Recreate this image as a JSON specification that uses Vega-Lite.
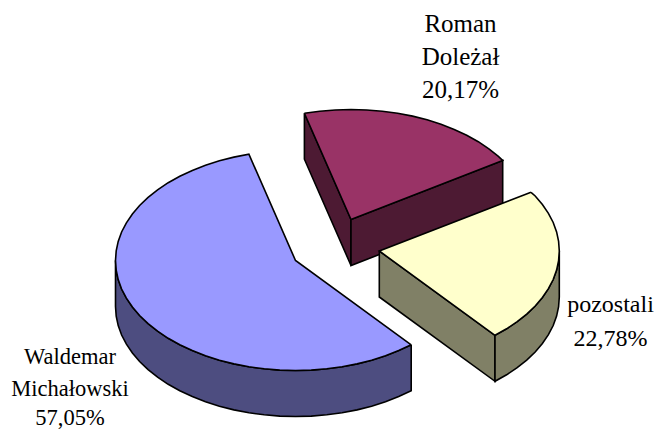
{"$schema":"https://vega.github.io/schema/vega-lite/v6.json","width":659,"height":430,"padding":0,"autosize":"none","background":"white","config":{"view":{"stroke":null}},"datasets":{"shapes":[
{"part":"Waldemar wall","o":1,"x":411.2,"y":344.8},{"part":"Waldemar wall","o":2,"x":385.5,"y":355.8},{"part":"Waldemar wall","o":3,"x":357.1,"y":363.9},{"part":"Waldemar wall","o":4,"x":326.8,"y":368.8},{"part":"Waldemar wall","o":5,"x":295.5,"y":370.5},{"part":"Waldemar wall","o":6,"x":264.2,"y":368.8},{"part":"Waldemar wall","o":7,"x":233.9,"y":363.9},{"part":"Waldemar wall","o":8,"x":205.5,"y":355.8},{"part":"Waldemar wall","o":9,"x":179.8,"y":344.8},{"part":"Waldemar wall","o":10,"x":157.6,"y":331.2},{"part":"Waldemar wall","o":11,"x":139.6,"y":315.5},{"part":"Waldemar wall","o":12,"x":126.4,"y":298.1},{"part":"Waldemar wall","o":13,"x":118.2,"y":279.6},{"part":"Waldemar wall","o":14,"x":115.5,"y":260.5},{"part":"Waldemar wall","o":15,"x":115.5,"y":306.5},{"part":"Waldemar wall","o":16,"x":118.2,"y":325.6},{"part":"Waldemar wall","o":17,"x":126.4,"y":344.1},{"part":"Waldemar wall","o":18,"x":139.6,"y":361.5},{"part":"Waldemar wall","o":19,"x":157.6,"y":377.2},{"part":"Waldemar wall","o":20,"x":179.8,"y":390.8},{"part":"Waldemar wall","o":21,"x":205.5,"y":401.8},{"part":"Waldemar wall","o":22,"x":233.9,"y":409.9},{"part":"Waldemar wall","o":23,"x":264.2,"y":414.8},{"part":"Waldemar wall","o":24,"x":295.5,"y":416.5},{"part":"Waldemar wall","o":25,"x":326.8,"y":414.8},{"part":"Waldemar wall","o":26,"x":357.1,"y":409.9},{"part":"Waldemar wall","o":27,"x":385.5,"y":401.8},{"part":"Waldemar wall","o":28,"x":411.2,"y":390.8},{"part":"Waldemar wall","o":29,"x":411.2,"y":344.8},
{"part":"Waldemar wall","o":1.5,"x":398.7,"y":350.6},{"part":"Waldemar wall","o":2.5,"x":371.6,"y":360.2},{"part":"Waldemar wall","o":3.5,"x":342.1,"y":366.8},{"part":"Waldemar wall","o":4.5,"x":311.2,"y":370.1},{"part":"Waldemar wall","o":5.5,"x":279.8,"y":370.1},{"part":"Waldemar wall","o":6.5,"x":248.9,"y":366.8},{"part":"Waldemar wall","o":7.5,"x":219.4,"y":360.2},{"part":"Waldemar wall","o":8.5,"x":192.3,"y":350.6},{"part":"Waldemar wall","o":9.5,"x":168.2,"y":338.3},{"part":"Waldemar wall","o":10.5,"x":148.1,"y":323.6},{"part":"Waldemar wall","o":11.5,"x":132.4,"y":307},{"part":"Waldemar wall","o":12.5,"x":121.6,"y":289},{"part":"Waldemar wall","o":13.5,"x":116.2,"y":270.1},
{"part":"Waldemar wall","o":15.5,"x":116.2,"y":316.1},{"part":"Waldemar wall","o":16.5,"x":121.6,"y":335},{"part":"Waldemar wall","o":17.5,"x":132.4,"y":353},{"part":"Waldemar wall","o":18.5,"x":148.1,"y":369.6},{"part":"Waldemar wall","o":19.5,"x":168.2,"y":384.3},{"part":"Waldemar wall","o":20.5,"x":192.3,"y":396.6},{"part":"Waldemar wall","o":21.5,"x":219.4,"y":406.2},{"part":"Waldemar wall","o":22.5,"x":248.9,"y":412.8},{"part":"Waldemar wall","o":23.5,"x":279.8,"y":416.1},{"part":"Waldemar wall","o":24.5,"x":311.2,"y":416.1},{"part":"Waldemar wall","o":25.5,"x":342.1,"y":412.8},{"part":"Waldemar wall","o":26.5,"x":371.6,"y":406.2},{"part":"Waldemar wall","o":27.5,"x":398.7,"y":396.6},
{"part":"Waldemar top","o":1,"x":411.2,"y":344.8},{"part":"Waldemar top","o":2,"x":385.5,"y":355.8},{"part":"Waldemar top","o":3,"x":357.1,"y":363.9},{"part":"Waldemar top","o":4,"x":326.8,"y":368.8},{"part":"Waldemar top","o":5,"x":295.5,"y":370.5},{"part":"Waldemar top","o":6,"x":264.2,"y":368.8},{"part":"Waldemar top","o":7,"x":233.9,"y":363.9},{"part":"Waldemar top","o":8,"x":205.5,"y":355.8},{"part":"Waldemar top","o":9,"x":179.8,"y":344.8},{"part":"Waldemar top","o":10,"x":157.6,"y":331.2},{"part":"Waldemar top","o":11,"x":139.6,"y":315.5},{"part":"Waldemar top","o":12,"x":126.4,"y":298.1},{"part":"Waldemar top","o":13,"x":118.2,"y":279.6},{"part":"Waldemar top","o":14,"x":115.5,"y":260.5},{"part":"Waldemar top","o":15,"x":118.2,"y":241.4},{"part":"Waldemar top","o":16,"x":126.4,"y":222.9},{"part":"Waldemar top","o":17,"x":139.6,"y":205.5},{"part":"Waldemar top","o":18,"x":157.6,"y":189.8},{"part":"Waldemar top","o":19,"x":179.8,"y":176.2},{"part":"Waldemar top","o":20,"x":205.5,"y":165.2},{"part":"Waldemar top","o":21,"x":233.9,"y":157.1},{"part":"Waldemar top","o":22,"x":248.9,"y":154.2},{"part":"Waldemar top","o":23,"x":295.5,"y":260.5},{"part":"Waldemar top","o":24,"x":411.2,"y":344.8},
{"part":"Waldemar top","o":1.5,"x":398.7,"y":350.6},{"part":"Waldemar top","o":2.5,"x":371.6,"y":360.2},{"part":"Waldemar top","o":3.5,"x":342.1,"y":366.8},{"part":"Waldemar top","o":4.5,"x":311.2,"y":370.1},{"part":"Waldemar top","o":5.5,"x":279.8,"y":370.1},{"part":"Waldemar top","o":6.5,"x":248.9,"y":366.8},{"part":"Waldemar top","o":7.5,"x":219.4,"y":360.2},{"part":"Waldemar top","o":8.5,"x":192.3,"y":350.6},{"part":"Waldemar top","o":9.5,"x":168.2,"y":338.3},{"part":"Waldemar top","o":10.5,"x":148.1,"y":323.6},{"part":"Waldemar top","o":11.5,"x":132.4,"y":307},{"part":"Waldemar top","o":12.5,"x":121.6,"y":289},{"part":"Waldemar top","o":13.5,"x":116.2,"y":270.1},{"part":"Waldemar top","o":14.5,"x":116.2,"y":250.9},{"part":"Waldemar top","o":15.5,"x":121.6,"y":232},{"part":"Waldemar top","o":16.5,"x":132.4,"y":214},{"part":"Waldemar top","o":17.5,"x":148.1,"y":197.4},{"part":"Waldemar top","o":18.5,"x":168.2,"y":182.7},{"part":"Waldemar top","o":19.5,"x":192.3,"y":170.4},{"part":"Waldemar top","o":20.5,"x":219.4,"y":160.8},
{"part":"Roman side","o":1,"x":304.4,"y":113.2},{"part":"Roman side","o":2,"x":351,"y":219.5},{"part":"Roman side","o":3,"x":351,"y":265.5},{"part":"Roman side","o":4,"x":304.4,"y":159.2},{"part":"Roman side","o":5,"x":304.4,"y":113.2},
{"part":"Roman front","o":1,"x":351,"y":219.5},{"part":"Roman front","o":2,"x":502.7,"y":160.5},{"part":"Roman front","o":3,"x":502.7,"y":206.5},{"part":"Roman front","o":4,"x":351,"y":265.5},{"part":"Roman front","o":5,"x":351,"y":219.5},
{"part":"Roman top","o":1,"x":304.4,"y":113.2},{"part":"Roman top","o":2,"x":319.7,"y":111.2},{"part":"Roman top","o":3,"x":351,"y":109.5},{"part":"Roman top","o":4,"x":382.3,"y":111.2},{"part":"Roman top","o":5,"x":412.6,"y":116.1},{"part":"Roman top","o":6,"x":441,"y":124.2},{"part":"Roman top","o":7,"x":466.7,"y":135.2},{"part":"Roman top","o":8,"x":488.9,"y":148.8},{"part":"Roman top","o":9,"x":502.7,"y":160.5},{"part":"Roman top","o":10,"x":351,"y":219.5},{"part":"Roman top","o":11,"x":304.4,"y":113.2},
{"part":"Roman top","o":2.5,"x":335.3,"y":110},{"part":"Roman top","o":3.5,"x":366.7,"y":110},{"part":"Roman top","o":4.5,"x":397.6,"y":113.2},{"part":"Roman top","o":5.5,"x":427.1,"y":119.8},{"part":"Roman top","o":6.5,"x":454.2,"y":129.4},{"part":"Roman top","o":7.5,"x":478.3,"y":141.7},{"part":"Roman top","o":8.5,"x":498.4,"y":156.4},
{"part":"pozostali side","o":1,"x":379.3,"y":251},{"part":"pozostali side","o":2,"x":495,"y":335.3},{"part":"pozostali side","o":3,"x":495,"y":381.3},{"part":"pozostali side","o":4,"x":379.3,"y":297},{"part":"pozostali side","o":5,"x":379.3,"y":251},
{"part":"pozostali wall","o":1,"x":495,"y":335.3},{"part":"pozostali wall","o":2,"x":517.2,"y":321.7},{"part":"pozostali wall","o":3,"x":535.2,"y":306},{"part":"pozostali wall","o":4,"x":548.4,"y":288.6},{"part":"pozostali wall","o":5,"x":556.6,"y":270.1},{"part":"pozostali wall","o":6,"x":559.3,"y":251},{"part":"pozostali wall","o":7,"x":559.3,"y":297},{"part":"pozostali wall","o":8,"x":556.6,"y":316.1},{"part":"pozostali wall","o":9,"x":548.4,"y":334.6},{"part":"pozostali wall","o":10,"x":535.2,"y":352},{"part":"pozostali wall","o":11,"x":517.2,"y":367.7},{"part":"pozostali wall","o":12,"x":495,"y":381.3},{"part":"pozostali wall","o":13,"x":495,"y":335.3},
{"part":"pozostali wall","o":1.5,"x":506.6,"y":328.8},{"part":"pozostali wall","o":2.5,"x":526.7,"y":314.1},{"part":"pozostali wall","o":3.5,"x":542.4,"y":297.5},{"part":"pozostali wall","o":4.5,"x":553.2,"y":279.5},{"part":"pozostali wall","o":5.5,"x":558.6,"y":260.6},{"part":"pozostali wall","o":7.5,"x":558.6,"y":306.6},{"part":"pozostali wall","o":8.5,"x":553.2,"y":325.5},{"part":"pozostali wall","o":9.5,"x":542.4,"y":343.5},{"part":"pozostali wall","o":10.5,"x":526.7,"y":360.1},{"part":"pozostali wall","o":11.5,"x":506.6,"y":374.8},
{"part":"pozostali top","o":1,"x":531,"y":192.3},{"part":"pozostali top","o":2,"x":535.2,"y":196},{"part":"pozostali top","o":3,"x":548.4,"y":213.4},{"part":"pozostali top","o":4,"x":556.6,"y":231.9},{"part":"pozostali top","o":5,"x":559.3,"y":251},{"part":"pozostali top","o":6,"x":556.6,"y":270.1},{"part":"pozostali top","o":7,"x":548.4,"y":288.6},{"part":"pozostali top","o":8,"x":535.2,"y":306},{"part":"pozostali top","o":9,"x":517.2,"y":321.7},{"part":"pozostali top","o":10,"x":495,"y":335.3},{"part":"pozostali top","o":11,"x":379.3,"y":251},{"part":"pozostali top","o":12,"x":531,"y":192.3},
{"part":"pozostali top","o":2.5,"x":542.4,"y":204.5},{"part":"pozostali top","o":3.5,"x":553.2,"y":222.5},{"part":"pozostali top","o":4.5,"x":558.6,"y":241.4},{"part":"pozostali top","o":5.5,"x":558.6,"y":260.6},{"part":"pozostali top","o":6.5,"x":553.2,"y":279.5},{"part":"pozostali top","o":7.5,"x":542.4,"y":297.5},{"part":"pozostali top","o":8.5,"x":526.7,"y":314.1},{"part":"pozostali top","o":9.5,"x":506.6,"y":328.8}
],"labelsRoman":[
{"text":"Roman","x":460.5,"y":32},{"text":"Doleżał","x":460.5,"y":65},{"text":"20,17%","x":460.5,"y":98}
],"labelsPozostali":[
{"text":"pozostali","x":610.5,"y":312},{"text":"22,78%","x":610.5,"y":346}
],"labelsWaldemar":[
{"text":"Waldemar","x":70,"y":364},{"text":"Michałowski","x":70,"y":396},{"text":"57,05%","x":70,"y":425}
]},
"layer":[
{"data":{"name":"shapes"},"mark":{"type":"line","stroke":"black","strokeWidth":1.6,"strokeJoin":"miter","clip":false},
"encoding":{"x":{"field":"x","type":"quantitative","scale":{"domain":[0,659]},"axis":null},"y":{"field":"y","type":"quantitative","scale":{"domain":[430,0]},"axis":null},"order":{"field":"o","type":"quantitative"},
"fill":{"field":"part","type":"nominal","legend":null,"sort":null,"scale":{"domain":["Waldemar wall","Waldemar top","Roman side","Roman front","Roman top","pozostali side","pozostali wall","pozostali top"],"range":["#4d4d80","#9999ff","#4d1a33","#4d1a33","#993366","#808066","#808066","#ffffcc"]}}}},
{"data":{"name":"labelsRoman"},"mark":{"type":"text","font":"Liberation Serif","fontSize":25,"color":"#000000","align":"center","baseline":"alphabetic"},
"encoding":{"x":{"field":"x","type":"quantitative","scale":{"domain":[0,659]},"axis":null},"y":{"field":"y","type":"quantitative","scale":{"domain":[430,0]},"axis":null},"text":{"field":"text","type":"nominal"}}},
{"data":{"name":"labelsPozostali"},"mark":{"type":"text","font":"Liberation Serif","fontSize":24,"color":"#000000","align":"center","baseline":"alphabetic"},
"encoding":{"x":{"field":"x","type":"quantitative","scale":{"domain":[0,659]},"axis":null},"y":{"field":"y","type":"quantitative","scale":{"domain":[430,0]},"axis":null},"text":{"field":"text","type":"nominal"}}},
{"data":{"name":"labelsWaldemar"},"mark":{"type":"text","font":"Liberation Serif","fontSize":22.5,"color":"#000000","align":"center","baseline":"alphabetic"},
"encoding":{"x":{"field":"x","type":"quantitative","scale":{"domain":[0,659]},"axis":null},"y":{"field":"y","type":"quantitative","scale":{"domain":[430,0]},"axis":null},"text":{"field":"text","type":"nominal"}}}
]}
